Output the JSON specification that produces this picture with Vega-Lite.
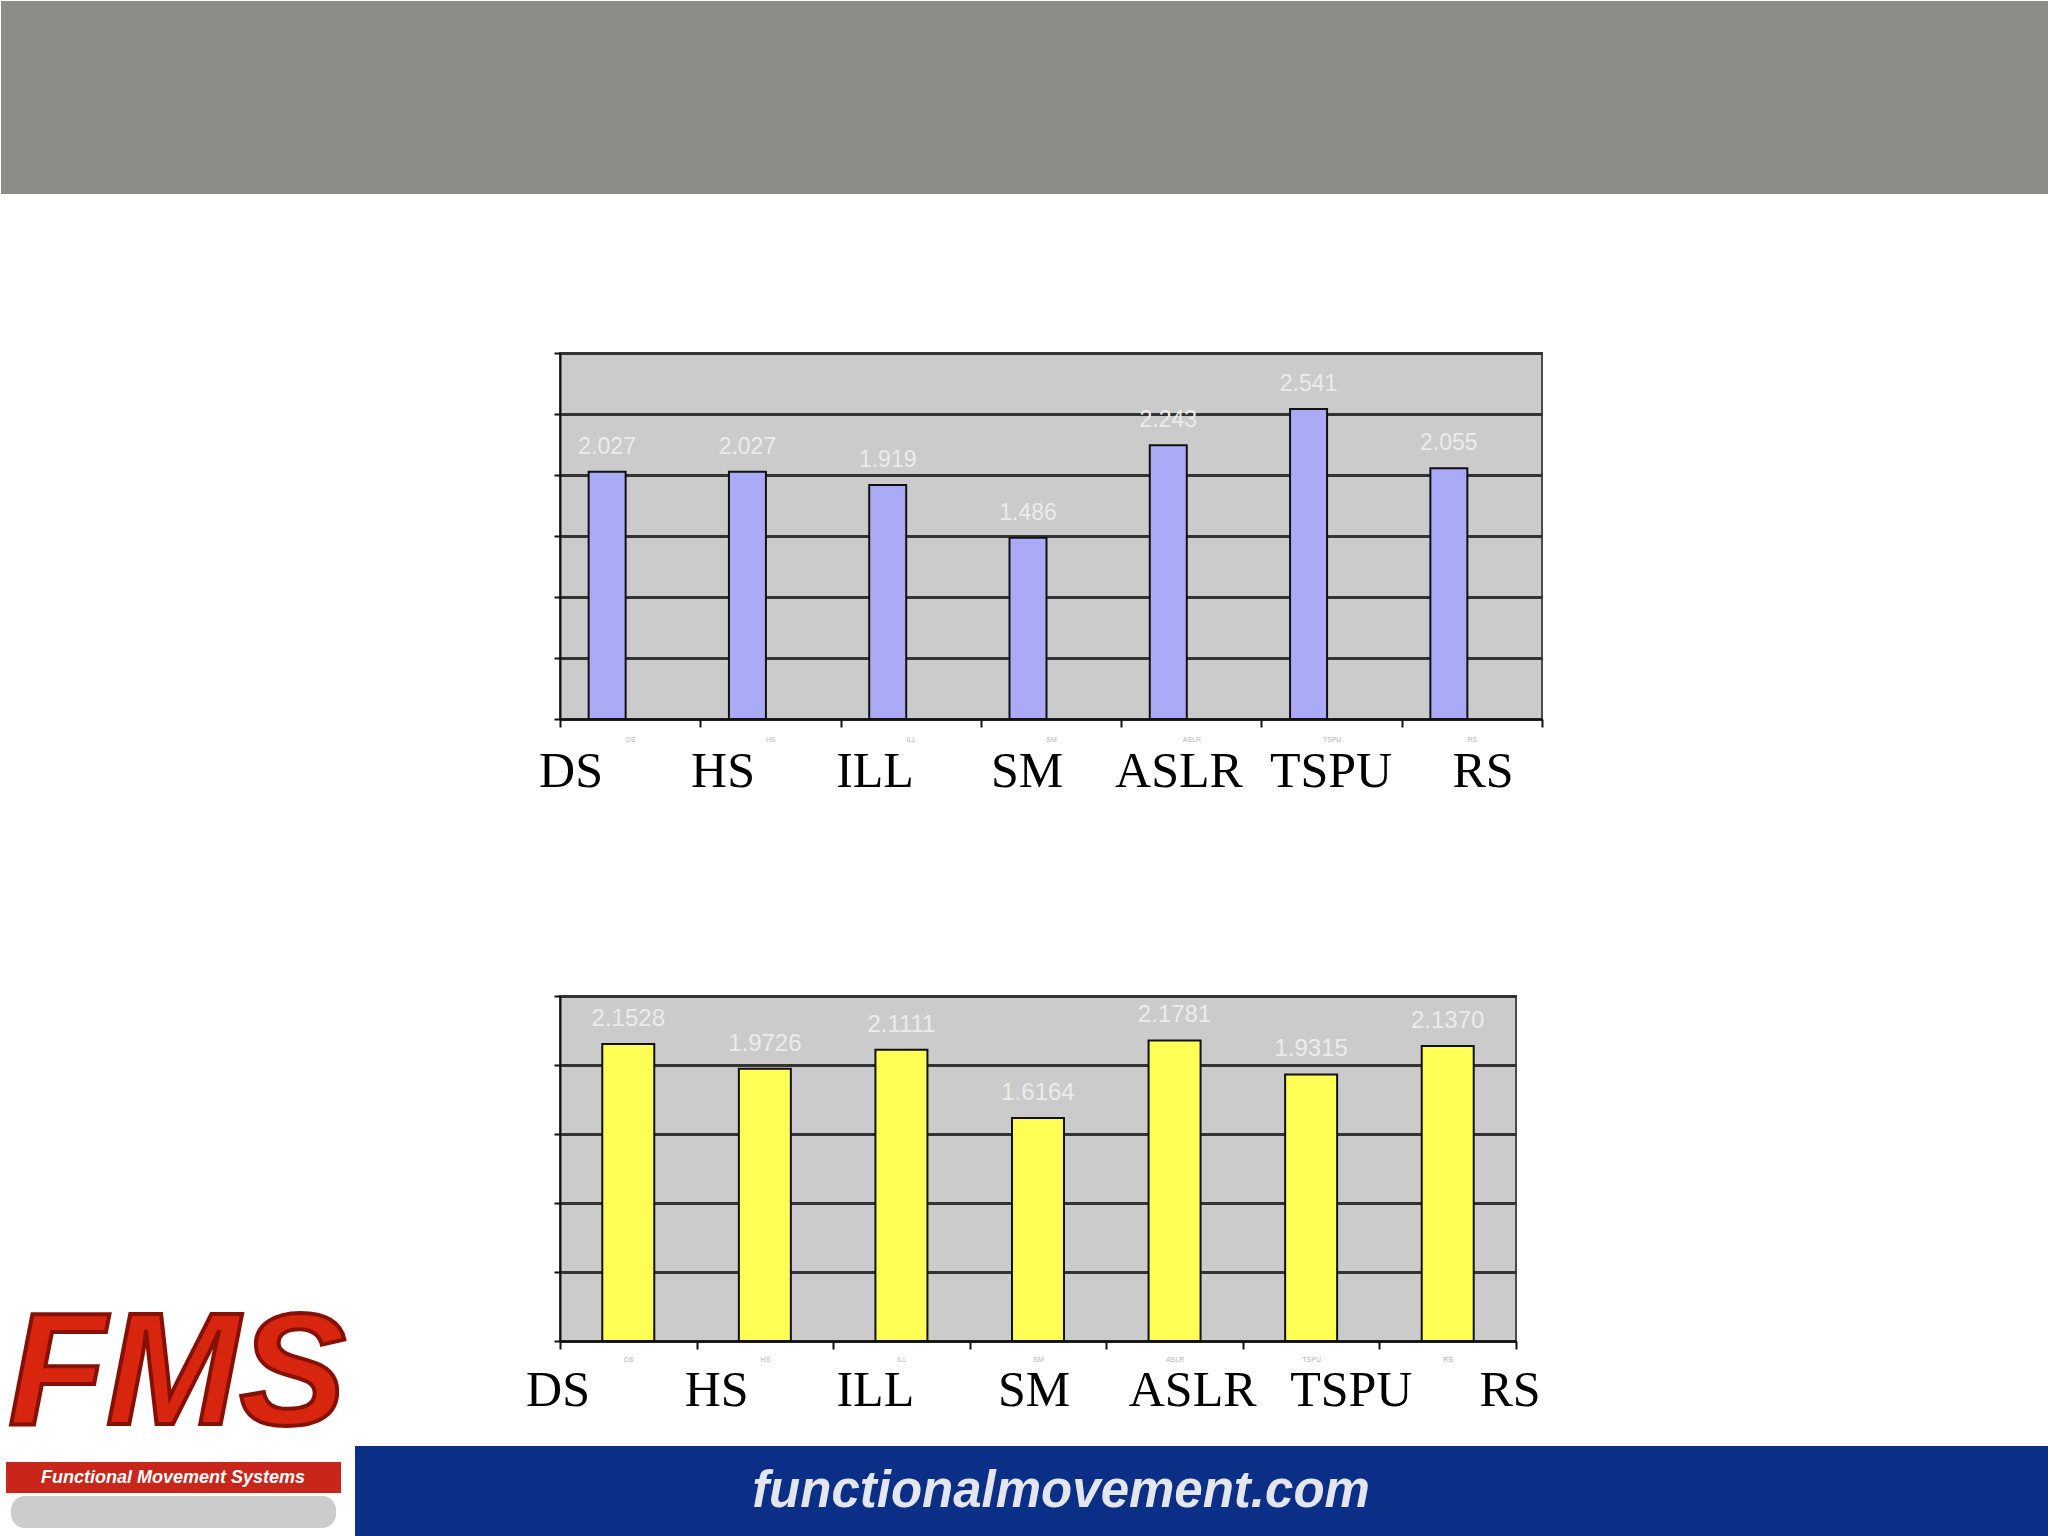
{
  "$schema": "https://vega.github.io/schema/vega-lite/v6.json",
  "padding": 0,
  "background": "white",
  "spacing": 0,
  "config": {"view": {"stroke": null}},
  "datasets": {
    "fms1": [
      {"test": "DS", "score": 2.027},
      {"test": "HS", "score": 2.027},
      {"test": "ILL", "score": 1.919},
      {"test": "SM", "score": 1.486},
      {"test": "ASLR", "score": 2.243},
      {"test": "TSPU", "score": 2.541},
      {"test": "RS", "score": 2.055}
    ],
    "fms2": [
      {"test": "DS", "score": 2.1528},
      {"test": "HS", "score": 1.9726},
      {"test": "ILL", "score": 2.1111},
      {"test": "SM", "score": 1.6164},
      {"test": "ASLR", "score": 2.1781},
      {"test": "TSPU", "score": 1.9315},
      {"test": "RS", "score": 2.137}
    ]
  },
  "vconcat": [
    {
      "width": 982,
      "height": 366,
      "view": {"fill": "#cbcbcb", "stroke": "#4a4a4a", "strokeWidth": 2},
      "resolve": {"scale": {"x": "independent"}},
      "layer": [
        {
          "data": {"values": [{}]},
          "mark": {"type": "rect", "color": "#8b8e86"},
          "encoding": {
            "x": {"value": -559}, "x2": {"value": 1489},
            "y": {"value": -352}, "y2": {"value": -159}
          }
        },
        {
          "data": {"name": "fms1"},
          "layer": [
            {
              "mark": {"type": "bar", "width": 37, "xOffset": -23, "fill": "#aaaaf6", "stroke": "#111111", "strokeWidth": 2},
              "encoding": {
                "x": {
                  "field": "test", "type": "nominal", "sort": null,
                  "scale": {"paddingInner": 0, "paddingOuter": 0},
                  "axis": {
                    "title": null, "labelAngle": 0, "labelFontSize": 7, "labelColor": "#b5b5b5",
                    "labelPadding": 8, "tickBand": "extent", "tickSize": 8, "tickColor": "#111111",
                    "tickWidth": 2, "domainColor": "#111111", "domainWidth": 2,
                    "minExtent": 274, "maxExtent": 274
                  }
                },
                "y": {
                  "field": "score", "type": "quantitative",
                  "scale": {"domain": [0, 3], "nice": false},
                  "axis": {
                    "title": null, "labels": false, "values": [0, 0.5, 1, 1.5, 2, 2.5, 3],
                    "grid": true, "gridColor": "#333333", "gridWidth": 3,
                    "ticks": true, "tickSize": 6, "tickColor": "#111111", "tickWidth": 2,
                    "domain": true, "domainColor": "#111111", "domainWidth": 2
                  }
                }
              }
            },
            {
              "mark": {"type": "text", "dx": -23, "dy": -18, "baseline": "alphabetic", "font": "Liberation Sans", "fontSize": 23, "color": "#ececec"},
              "encoding": {
                "x": {"field": "test", "type": "nominal", "sort": null},
                "y": {"field": "score", "type": "quantitative"},
                "text": {"field": "score", "type": "quantitative", "format": ".3f"}
              }
            }
          ]
        },
        {
          "data": {"name": "fms1"},
          "mark": {"type": "text", "font": "Liberation Serif", "fontSize": 50, "baseline": "alphabetic", "color": "black"},
          "encoding": {
            "x": {"field": "test", "type": "nominal", "sort": null, "scale": {"type": "point", "range": [11, 923], "padding": 0}, "axis": null},
            "y": {"datum": -0.56, "type": "quantitative"},
            "text": {"field": "test"}
          }
        }
      ]
    },
    {
      "width": 956,
      "height": 345,
      "view": {"fill": "#cbcbcb", "stroke": "#4a4a4a", "strokeWidth": 2},
      "resolve": {"scale": {"x": "independent"}},
      "layer": [
        {
          "data": {"values": [{}]},
          "mark": {"type": "rect", "color": "white"},
          "encoding": {
            "x": {"value": -559}, "x2": {"value": -200},
            "y": {"value": 300}, "y2": {"value": 544}
          }
        },
        {
          "data": {"values": [{}]},
          "mark": {"type": "rect", "color": "#0b2e86"},
          "encoding": {
            "x": {"value": -205}, "x2": {"value": 1489},
            "y": {"value": 450}, "y2": {"value": 544}
          }
        },
        {
          "data": {"values": [{"site": "functionalmovement.com"}]},
          "mark": {"type": "text", "font": "Liberation Sans", "fontSize": 51, "fontWeight": "bold", "fontStyle": "italic", "color": "#e4e6ee", "baseline": "alphabetic", "align": "center"},
          "encoding": {
            "x": {"value": 501}, "y": {"value": 511},
            "text": {"field": "site"}
          }
        },
        {
          "data": {"values": [{}]},
          "mark": {"type": "rect", "color": "#9a9a9a", "opacity": 0.5, "cornerRadius": 14},
          "encoding": {
            "x": {"value": -549}, "x2": {"value": -224},
            "y": {"value": 500}, "y2": {"value": 532}
          }
        },
        {
          "data": {"values": [{"logo": "FMS"}]},
          "mark": {"type": "text", "font": "Liberation Sans", "fontSize": 160, "fontWeight": "bold", "fontStyle": "italic", "fill": "#d8260e", "stroke": "#861005", "strokeWidth": 4, "baseline": "bottom", "align": "center"},
          "encoding": {
            "x": {"value": -383}, "y": {"value": 462},
            "text": {"field": "logo"}
          }
        },
        {
          "data": {"values": [{}]},
          "mark": {"type": "rect", "color": "#c8261a"},
          "encoding": {
            "x": {"value": -554}, "x2": {"value": -219},
            "y": {"value": 466}, "y2": {"value": 497}
          }
        },
        {
          "data": {"values": [{"name": "Functional Movement Systems"}]},
          "mark": {"type": "text", "font": "Liberation Sans", "fontSize": 18, "fontWeight": "bold", "fontStyle": "italic", "color": "white", "baseline": "middle", "align": "center"},
          "encoding": {
            "x": {"value": -387}, "y": {"value": 482},
            "text": {"field": "name"}
          }
        },
        {
          "data": {"name": "fms2"},
          "layer": [
            {
              "mark": {"type": "bar", "width": 52, "fill": "#ffff55", "stroke": "#111111", "strokeWidth": 2},
              "encoding": {
                "x": {
                  "field": "test", "type": "nominal", "sort": null,
                  "scale": {"paddingInner": 0, "paddingOuter": 0},
                  "axis": {
                    "title": null, "labelAngle": 0, "labelFontSize": 7, "labelColor": "#b5b5b5",
                    "labelPadding": 6, "tickBand": "extent", "tickSize": 8, "tickColor": "#111111",
                    "tickWidth": 2, "domainColor": "#111111", "domainWidth": 2
                  }
                },
                "y": {
                  "field": "score", "type": "quantitative",
                  "scale": {"domain": [0, 2.5], "nice": false},
                  "axis": {
                    "title": null, "labels": false, "values": [0, 0.5, 1, 1.5, 2, 2.5],
                    "grid": true, "gridColor": "#333333", "gridWidth": 3,
                    "ticks": true, "tickSize": 6, "tickColor": "#111111", "tickWidth": 2,
                    "domain": true, "domainColor": "#111111", "domainWidth": 2
                  }
                }
              }
            },
            {
              "mark": {"type": "text", "dy": -18, "baseline": "alphabetic", "font": "Liberation Sans", "fontSize": 24, "color": "#ececec"},
              "encoding": {
                "x": {"field": "test", "type": "nominal", "sort": null},
                "y": {"field": "score", "type": "quantitative"},
                "text": {"field": "score", "type": "quantitative", "format": ".4f"}
              }
            }
          ]
        },
        {
          "data": {"name": "fms2"},
          "mark": {"type": "text", "font": "Liberation Serif", "fontSize": 50, "baseline": "alphabetic", "color": "black"},
          "encoding": {
            "x": {"field": "test", "type": "nominal", "sort": null, "scale": {"type": "point", "range": [-2, 950], "padding": 0}, "axis": null},
            "y": {"datum": -0.47, "type": "quantitative"},
            "text": {"field": "test"}
          }
        }
      ]
    }
  ]
}
